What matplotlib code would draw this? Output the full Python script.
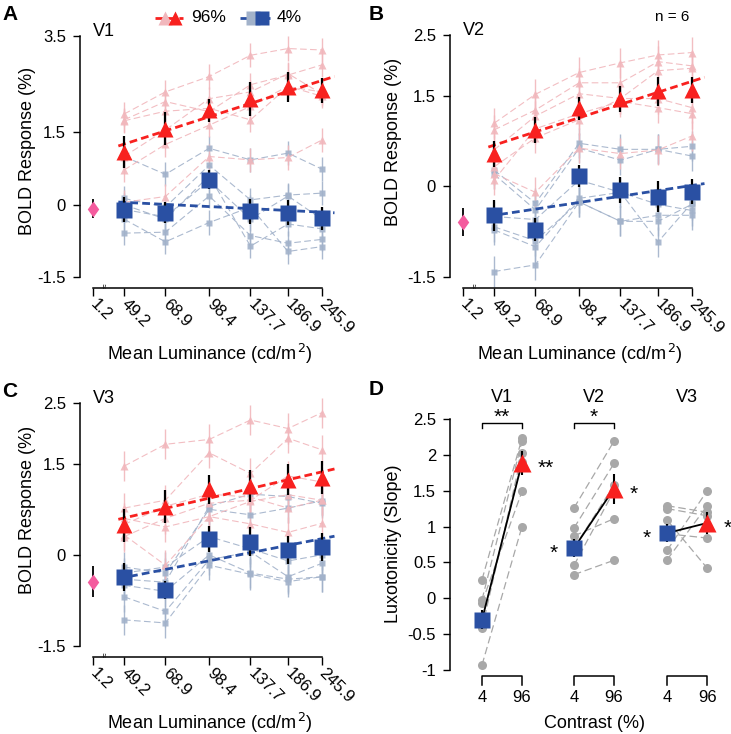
import numpy as np
import matplotlib.pyplot as plt
import matplotlib.transforms as mtransforms

plt.rcParams['font.family'] = ['Liberation Sans', 'DejaVu Sans']

W, H = 731, 734

## Data ##

lum = [49.2, 68.9, 98.4, 137.7, 186.9, 245.9]
lum_labels = ['1.2', '49.2', '68.9', '98.4', '137.7', '186.9', '245.9']

# V1 (A)
v1_hi_mean = [1.09, 1.58, 1.96, 2.20, 2.44, 2.37]
v1_hi_err = [0.33, 0.35, 0.24, 0.35, 0.31, 0.26]
v1_lo_mean = [-0.10, -0.17, 0.52, -0.14, -0.17, -0.28]
v1_lo_err = [0.25, 0.22, 0.20, 0.26, 0.26, 0.24]
v1_dark = -0.08
v1_dark_err = 0.20
v1_hi_subj = [[1.88, 2.34, 2.66, 3.10, 3.24, 3.21],
              [1.76, 2.14, 1.93, 2.49, 2.69, 2.90],
              [1.74, 1.94, 2.00, 1.76, 2.45, 2.34],
              [0.72, 1.25, 1.65, 2.04, 2.46, 2.25],
              [0.05, 0.17, 1.00, 0.93, 0.98, 1.34],
              [1.00, 1.55, 2.20, 2.34, 2.72, 2.30]]
v1_lo_subj = [[1.00, 0.63, 1.17, 0.93, 1.07, 0.74],
              [0.13, -0.05, 0.82, 0.10, 0.20, 0.24],
              [-0.10, -0.25, 0.50, -0.30, 0.18, -0.30],
              [-0.59, -0.57, 0.18, -0.64, -0.80, -0.72],
              [-0.30, -0.77, -0.37, -0.05, -0.97, -0.87],
              [0.00, -0.30, 0.60, -0.86, -0.40, -0.50]]

# V2 (B)
v2_hi_mean = [0.53, 0.93, 1.29, 1.44, 1.57, 1.59]
v2_hi_err = [0.21, 0.22, 0.19, 0.21, 0.24, 0.21]
v2_lo_mean = [-0.48, -0.72, 0.17, -0.06, -0.17, -0.09]
v2_lo_err = [0.26, 0.19, 0.18, 0.21, 0.26, 0.21]
v2_dark = -0.59
v2_dark_err = 0.23
v2_hi_subj = [[1.04, 1.52, 1.88, 2.04, 2.17, 2.21],
              [0.93, 1.26, 1.71, 1.71, 2.06, 1.99],
              [0.60, 1.16, 1.53, 1.45, 1.91, 1.95],
              [0.32, 0.80, 1.10, 1.45, 1.45, 1.30],
              [0.21, -0.10, 0.63, 0.54, 0.60, 0.83],
              [0.10, 0.95, 1.20, 1.40, 1.30, 1.20]]
v2_lo_subj = [[0.27, -0.28, 0.71, 0.61, 0.61, 0.66],
              [0.20, -0.39, 0.63, 0.43, 0.61, 0.50],
              [-0.67, -0.90, -0.26, -0.58, -0.48, -0.48],
              [-0.72, -1.00, -0.20, -0.10, -0.92, -0.28],
              [-1.41, -1.30, -0.26, -0.58, -0.58, -0.30],
              [-0.50, -0.55, 0.10, -0.10, -0.30, -0.40]]

# V3 (C)
v3_hi_mean = [0.49, 0.79, 1.08, 1.13, 1.24, 1.27]
v3_hi_err = [0.27, 0.27, 0.24, 0.26, 0.26, 0.27]
v3_lo_mean = [-0.36, -0.58, 0.26, 0.22, 0.08, 0.13]
v3_lo_err = [0.23, 0.15, 0.21, 0.24, 0.23, 0.23]
v3_dark = -0.44
v3_dark_err = 0.25
v3_hi_subj = [[1.46, 1.82, 1.90, 2.22, 2.08, 2.34],
              [0.77, 0.90, 1.68, 1.34, 1.92, 1.73],
              [0.60, 0.46, 0.63, 0.88, 0.99, 0.90],
              [0.33, -0.17, 0.63, 0.51, 0.37, 0.52],
              [0.50, 0.80, 1.00, 0.95, 0.77, 0.90],
              [0.30, 0.60, 0.85, 0.90, 1.30, 1.20]]
v3_lo_subj = [[-0.20, -0.30, 0.75, 0.66, 0.77, 0.89],
              [-0.40, -0.45, 0.80, 1.00, 0.96, 0.85],
              [-0.69, -0.93, -0.08, 0.05, -0.36, -0.14],
              [-1.07, -1.12, -0.17, -0.32, -0.44, -0.36],
              [-0.50, -0.60, 0.00, -0.30, -0.40, -0.36],
              [-0.30, -0.20, 0.30, 0.10, -0.10, 0.00]]

subj_err = 0.25

# D: luxotonicity (slope) per subject, 4% and 96% contrast
areas = ['V1', 'V2', 'V3']
slope_lo_subj = [[0.26, -0.02, -0.06, -0.30, -0.42, -0.93],
                 [1.26, 0.98, 0.87, 0.70, 0.46, 0.33],
                 [1.29, 1.25, 1.09, 0.90, 0.67, 0.54]]
slope_hi_subj = [[2.23, 2.19, 1.49, 1.90, 2.02, 1.00],
                 [2.19, 1.88, 1.11, 1.58, 1.50, 0.53],
                 [1.20, 1.15, 0.42, 0.84, 1.50, 1.29]]
slope_lo_mean = [-0.30, 0.70, 0.91]
slope_lo_err = [0.13, 0.12, 0.12]
slope_hi_mean = [1.89, 1.53, 1.05]
slope_hi_err = [0.17, 0.21, 0.16]
sig_lo = ['', '*', '*']
sig_hi = ['**', '*', '*']
sig_pair = ['**', '*', '']

## Style ##
RED = '#F8211F'
PINK = '#F1B7BC'
BLUE = '#2A50A3'
LBLUE = '#A2B2CA'
MAG = '#F45C9E'
GRAY = '#A8A8A8'
TICK_FS = 12
LAB_FS = 13

fig = plt.figure(figsize=(W / 100, H / 100), dpi=100)


def px_axes(left, top, right, bottom):
    return fig.add_axes([left / W, 1 - bottom / H, (right - left) / W, (bottom - top) / H])


def style_axes(ax):
    for s in ['top', 'right']:
        ax.spines[s].set_visible(False)
    for s in ['left', 'bottom']:
        ax.spines[s].set_linewidth(1.1)
    ax.spines['left'].set_position(('outward', 3.6))
    ax.spines['bottom'].set_position(('outward', 8))
    ax.tick_params(axis='both', width=1.0, labelsize=TICK_FS)
    ax.tick_params(axis='y', length=5, pad=5)
    ax.tick_params(axis='x', length=6, pad=4)


xs = np.log10(lum)
x_dark = xs[0] - 0.11
diamond = [(0, 1), (0.72, 0), (0, -1), (-0.72, 0), (0, 1)]


def lum_panel(ax, hi_mean, hi_err, lo_mean, lo_err, hi_subj, lo_subj,
              dark, dark_err, ylim, yticks, ylabels, title, ylab_xy):
    style_axes(ax)
    # individual subjects
    for row in lo_subj:
        ax.errorbar(xs, row, yerr=subj_err, color=LBLUE, lw=0.8, dashes=(6, 3),
                    marker='s', ms=4.5, mec='none', elinewidth=1.0, ecolor=LBLUE,
                    alpha=0.9, zorder=1, clip_on=False)
    for row in hi_subj:
        ax.errorbar(xs, row, yerr=subj_err, color=PINK, lw=0.8, dashes=(6, 3),
                    marker='^', ms=6, mec='none', elinewidth=1.0, ecolor=PINK,
                    alpha=0.9, zorder=1, clip_on=False)
    # linear fits on log luminance
    xf = np.array([xs[0] - 0.02, xs[-1] + 0.045])
    for m, c in [(hi_mean, RED), (lo_mean, BLUE)]:
        p = np.polyfit(xs, m, 1)
        ax.plot(xf, np.polyval(p, xf), color=c, lw=2.0, dashes=(2.8, 1.5), zorder=3,
                clip_on=False)
    # means
    ax.errorbar(xs, lo_mean, yerr=lo_err, fmt='none', ecolor='black', elinewidth=1.6, zorder=4)
    ax.errorbar(xs, hi_mean, yerr=hi_err, fmt='none', ecolor='black', elinewidth=1.6, zorder=4)
    ax.plot(xs, lo_mean, 's', color=BLUE, ms=11.5, mec='none', zorder=5, clip_on=False)
    ax.plot(xs, hi_mean, '^', color=RED, ms=12, mec='none', zorder=5, clip_on=False)
    ax.errorbar([x_dark], [dark], yerr=dark_err, fmt='none', ecolor='black', elinewidth=1.3, zorder=4)
    ax.plot([x_dark], [dark], marker=diamond, color=MAG, ms=11.5, mec='none', zorder=5)

    ax.set_xlim(xs[0] - 0.1378, xs[0] + 0.7456)
    ax.set_ylim(ylim)
    ax.set_yticks(yticks)
    ax.set_yticklabels(ylabels)
    ax.spines['left'].set_bounds(ylim)
    ax.spines['bottom'].set_bounds(x_dark, xs[-1])
    ax.set_xticks([x_dark] + list(xs))
    ax.set_xticklabels(lum_labels, rotation=-45, ha='left', va='center',
                       rotation_mode='anchor')
    ax.set_ylabel('BOLD Response (%)', fontsize=LAB_FS)
    ax.yaxis.set_label_coords(*ylab_xy)
    ax.set_xlabel('Mean Luminance (cd/m$^{\\,2}$)', fontsize=LAB_FS, labelpad=4)
    ax.text(0.032, 1.054, title, transform=ax.transAxes, fontsize=13, va='top', ha='left')
    # axis break mark
    tr = ax.get_xaxis_transform() + mtransforms.ScaledTranslation(0, -6.5 / 72, fig.dpi_scale_trans)
    ax.text(x_dark + 0.045, 0, '\u2248', transform=tr, rotation=90, fontsize=6,
            ha='center', va='center', clip_on=False)


axA = px_axes(85, 36, 335, 277)
lum_panel(axA, v1_hi_mean, v1_hi_err, v1_lo_mean, v1_lo_err, v1_hi_subj, v1_lo_subj,
          v1_dark, v1_dark_err, (-1.5, 3.5), [-1.5, 0, 1.5, 3.5],
          ['-1.5', '0', '1.5', '3.5'], 'V1', (-0.195, 0.523))

axB = px_axes(455, 35, 705, 277)
lum_panel(axB, v2_hi_mean, v2_hi_err, v2_lo_mean, v2_lo_err, v2_hi_subj, v2_lo_subj,
          v2_dark, v2_dark_err, (-1.5, 2.5), [-1.5, 0, 1.5, 2.5],
          ['-1.5', '0', '1.5', '2.5'], 'V2', (-0.21, 0.558))

axC = px_axes(85, 403, 335, 646)
lum_panel(axC, v3_hi_mean, v3_hi_err, v3_lo_mean, v3_lo_err, v3_hi_subj, v3_lo_subj,
          v3_dark, v3_dark_err, (-1.5, 2.5), [-1.5, 0, 1.5, 2.5],
          ['-1.5', '0', '1.5', '2.5'], 'V3', (-0.195, 0.558))

## Panel D ##
axD = px_axes(455, 419, 730, 670)
style_axes(axD)
group_x = [0, 2.3, 4.63]
for i, g in enumerate(group_x):
    for lo, hi in zip(slope_lo_subj[i], slope_hi_subj[i]):
        axD.plot([g, g + 1], [lo, hi], color=GRAY, lw=0.9, dashes=(6, 3), zorder=1)
    axD.plot([g] * 6, slope_lo_subj[i], 'o', color=GRAY, ms=6.5, mec='none', zorder=2)
    axD.plot([g + 1] * 6, slope_hi_subj[i], 'o', color=GRAY, ms=6.5, mec='none', zorder=2)
    axD.plot([g, g + 1], [slope_lo_mean[i], slope_hi_mean[i]], color='black', lw=1.3, zorder=3)
    axD.errorbar([g, g + 1], [slope_lo_mean[i], slope_hi_mean[i]],
                 yerr=[slope_lo_err[i], slope_hi_err[i]], fmt='none', ecolor='black',
                 elinewidth=1.5, zorder=3)
    axD.plot(g, slope_lo_mean[i], 's', color=BLUE, ms=11.5, mec='none', zorder=4)
    axD.plot(g + 1, slope_hi_mean[i], '^', color=RED, ms=12.5, mec='none', zorder=4)
    # group title
    axD.text(g + 0.5, 2.8, areas[i], fontsize=13, ha='center', va='center')
    # significance vs zero
    if sig_lo[i]:
        axD.text(g - 0.4, slope_lo_mean[i] - 0.08, sig_lo[i], fontsize=15, ha='right', va='center')
    if sig_hi[i]:
        axD.text(g + 1.4, slope_hi_mean[i] - 0.08, sig_hi[i], fontsize=15, ha='left', va='center',
                 clip_on=False)
    # contrast comparison bracket
    if sig_pair[i]:
        axD.plot([g, g, g + 1, g + 1], [2.38, 2.44, 2.44, 2.38], color='black', lw=1.0)
        axD.text(g + 0.5, 2.52, sig_pair[i], fontsize=15, ha='center', va='center')
    # x bracket with contrast labels
    axD.plot([g, g, g + 1, g + 1], [-1.21, -1.085, -1.085, -1.21], color='black', lw=1.1,
             clip_on=False)
    axD.text(g, -1.39, '4', fontsize=TICK_FS, ha='center', va='center')
    axD.text(g + 1, -1.39, '96', fontsize=TICK_FS, ha='center', va='center')

axD.set_xlim(-0.675, 6.2)
axD.set_ylim(-1, 2.5)
axD.set_yticks([-1, -0.5, 0, 0.5, 1, 1.5, 2, 2.5])
axD.set_yticklabels(['-1', '-0.5', '0', '0.5', '1', '1.5', '2', '2.5'])
axD.spines['bottom'].set_visible(False)
axD.set_xticks([])
axD.set_ylabel('Luxotonicity (Slope)', fontsize=LAB_FS)
axD.yaxis.set_label_coords(-0.193, 0.504)
axD.text(2.8, -1.74, 'Contrast (%)', fontsize=LAB_FS, ha='center', va='center')

## Overlay: panel letters, legend ##
ov = fig.add_axes([0, 0, 1, 1], zorder=-1)
ov.set_xlim(0, W)
ov.set_ylim(H, 0)
ov.axis('off')
for letter, (lx, ly) in zip('ABCD', [(2, 5), (369, 5), (2, 382), (369, 380)]):
    ov.text(lx, ly, letter, fontsize=15, fontweight='bold', ha='left', va='top')
ov.text(655, 17, 'n = 6', fontsize=11, ha='left', va='center')

ov.plot([155, 183], [18, 18], color=RED, lw=2.0, dashes=(2.8, 1.5))
ov.plot(165, 18, '^', color=PINK, ms=10, mec='none')
ov.plot(175, 18, '^', color=RED, ms=10, mec='none')
ov.text(191, 18, '96%', fontsize=12.5, ha='left', va='center')
ov.plot([240, 270], [18, 18], color=BLUE, lw=2.0, dashes=(2.8, 1.5))
ov.plot(253, 18, 's', color=LBLUE, ms=9.5, mec='none')
ov.plot(262, 18, 's', color=BLUE, ms=9.5, mec='none')
ov.text(277, 18, '4%', fontsize=12.5, ha='left', va='center')

fig.savefig('out.png', dpi=100)
